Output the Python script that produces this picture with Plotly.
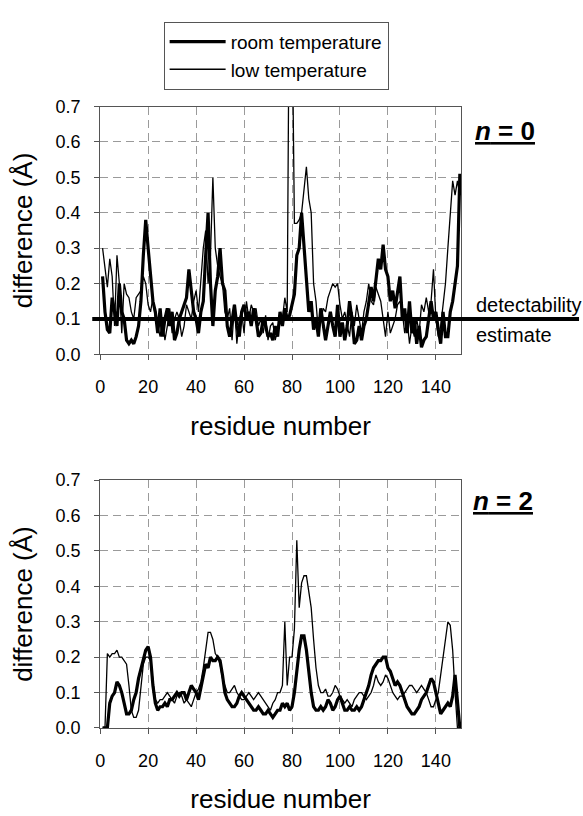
import plotly.graph_objects as go

residues = list(range(1, 152))

room_n0 = [0.22, 0.12, 0.07, 0.06, 0.16, 0.12, 0.08, 0.20, 0.12, 0.10,
           0.04, 0.03, 0.04, 0.03, 0.05, 0.08, 0.15, 0.28, 0.38, 0.30,
           0.22, 0.15, 0.12, 0.06, 0.13, 0.05, 0.10, 0.13, 0.08, 0.12,
           0.04, 0.06, 0.10, 0.12, 0.14, 0.16, 0.24, 0.18, 0.12, 0.10,
           0.06, 0.12, 0.15, 0.28, 0.40, 0.20, 0.08, 0.18, 0.22, 0.30,
           0.20, 0.18, 0.08, 0.05, 0.10, 0.14, 0.08, 0.05, 0.12, 0.14,
           0.10, 0.12, 0.08, 0.13, 0.10, 0.05, 0.06, 0.10, 0.08, 0.05,
           0.06, 0.04, 0.08, 0.05, 0.12, 0.08, 0.13, 0.10, 0.11, 0.14,
           0.17, 0.28, 0.30, 0.40, 0.30, 0.22, 0.12, 0.15, 0.07, 0.10,
           0.05, 0.13, 0.08, 0.04, 0.08, 0.12, 0.08, 0.05, 0.14, 0.05,
           0.09, 0.04, 0.08, 0.15, 0.10, 0.03, 0.04, 0.08, 0.04, 0.08,
           0.10, 0.15, 0.19, 0.15, 0.22, 0.27, 0.24, 0.31, 0.24, 0.22,
           0.15, 0.18, 0.13, 0.18, 0.22, 0.10, 0.13, 0.06, 0.15, 0.06,
           0.10, 0.03, 0.08, 0.02, 0.04, 0.05, 0.10, 0.15, 0.10, 0.12,
           0.07, 0.03, 0.12, 0.05, 0.05, 0.12, 0.15, 0.20, 0.25, 0.51,
           0.45]

low_n0 = [0.30, 0.25, 0.19, 0.27, 0.22, 0.08, 0.28, 0.20, 0.06, 0.20,
          0.17, 0.16, 0.12, 0.10, 0.16, 0.17, 0.18, 0.22, 0.20, 0.14,
          0.12, 0.16, 0.10, 0.08, 0.05, 0.10, 0.04, 0.08, 0.13, 0.06,
          0.10, 0.12, 0.10, 0.05, 0.08, 0.14, 0.12, 0.10, 0.15, 0.18,
          0.12, 0.20, 0.30, 0.35, 0.20, 0.28, 0.50, 0.30, 0.25, 0.22,
          0.20, 0.12, 0.10, 0.13, 0.04, 0.14, 0.03, 0.10, 0.12, 0.06,
          0.15, 0.10, 0.14, 0.12, 0.13, 0.08, 0.10, 0.06, 0.11, 0.04,
          0.08, 0.09, 0.04, 0.07, 0.11, 0.10, 0.16, 0.12, 1.20, 1.00,
          0.37, 0.37, 0.38, 0.40, 0.47, 0.53, 0.44, 0.40, 0.20, 0.15,
          0.06, 0.10, 0.13, 0.12, 0.16, 0.18, 0.20, 0.19, 0.20, 0.14,
          0.10, 0.12, 0.08, 0.05, 0.12, 0.08, 0.14, 0.10, 0.06, 0.12,
          0.15, 0.20, 0.15, 0.14, 0.19, 0.17, 0.15, 0.10, 0.05, 0.12,
          0.06, 0.08, 0.10, 0.14, 0.15, 0.12, 0.06, 0.10, 0.03, 0.08,
          0.05, 0.10, 0.06, 0.14, 0.12, 0.16, 0.12, 0.15, 0.24, 0.10,
          0.05, 0.08, 0.15, 0.20, 0.30, 0.40, 0.49, 0.45, 0.49, 0.45,
          0.47]

room_n2 = [0.00, 0.00, 0.00, 0.07, 0.09, 0.10, 0.13, 0.12, 0.10, 0.07,
           0.04, 0.04, 0.05, 0.08, 0.10, 0.14, 0.17, 0.20, 0.22, 0.23,
           0.20, 0.12, 0.07, 0.05, 0.06, 0.06, 0.07, 0.06, 0.08, 0.08,
           0.09, 0.10, 0.09, 0.10, 0.10, 0.08, 0.10, 0.12, 0.11, 0.10,
           0.08, 0.11, 0.14, 0.18, 0.17, 0.20, 0.19, 0.19, 0.20, 0.19,
           0.15, 0.10, 0.08, 0.07, 0.06, 0.06, 0.07, 0.09, 0.10, 0.09,
           0.08, 0.07, 0.06, 0.05, 0.05, 0.06, 0.05, 0.04, 0.04, 0.05,
           0.04, 0.03, 0.04, 0.05, 0.05, 0.07, 0.06, 0.07, 0.05, 0.06,
           0.10, 0.16, 0.22, 0.26, 0.26, 0.22, 0.15, 0.10, 0.06, 0.05,
           0.05, 0.06, 0.05, 0.06, 0.08, 0.07, 0.05, 0.06, 0.08, 0.09,
           0.07, 0.05, 0.05, 0.06, 0.05, 0.05, 0.06, 0.05, 0.06, 0.08,
           0.10, 0.12, 0.15, 0.17, 0.18, 0.19, 0.19, 0.20, 0.20, 0.17,
           0.16, 0.14, 0.12, 0.13, 0.12, 0.10, 0.08, 0.06, 0.05, 0.04,
           0.04, 0.05, 0.06, 0.08, 0.09, 0.10, 0.12, 0.14, 0.13, 0.10,
           0.07, 0.04, 0.05, 0.06, 0.07, 0.06, 0.09, 0.15, 0.08, 0.00,
           0.00]

low_n2 = [0.00, 0.00, 0.21, 0.20, 0.21, 0.21, 0.22, 0.20, 0.20, 0.19,
          0.18, 0.12, 0.05, 0.03, 0.03, 0.05, 0.12, 0.18, 0.20, 0.20,
          0.19, 0.14, 0.08, 0.07, 0.08, 0.08, 0.09, 0.10, 0.09, 0.08,
          0.07, 0.09, 0.10, 0.09, 0.07, 0.08, 0.07, 0.06, 0.08, 0.10,
          0.11, 0.13, 0.17, 0.22, 0.27, 0.27, 0.25, 0.21, 0.20, 0.18,
          0.14, 0.12, 0.10, 0.10, 0.11, 0.12, 0.10, 0.09, 0.08, 0.08,
          0.09, 0.10, 0.09, 0.08, 0.09, 0.10, 0.09, 0.08, 0.07, 0.06,
          0.05, 0.07, 0.08, 0.10, 0.10, 0.12, 0.30, 0.12, 0.20, 0.20,
          0.28, 0.53, 0.34, 0.41, 0.43, 0.43, 0.38, 0.34, 0.25, 0.17,
          0.12, 0.10, 0.10, 0.11, 0.09, 0.09, 0.10, 0.12, 0.11, 0.09,
          0.08, 0.07, 0.08, 0.07, 0.06, 0.08, 0.09, 0.10, 0.10, 0.09,
          0.08, 0.09, 0.10, 0.12, 0.15, 0.13, 0.12, 0.13, 0.15, 0.14,
          0.12, 0.10, 0.09, 0.08, 0.09, 0.09, 0.10, 0.11, 0.12, 0.12,
          0.11, 0.10, 0.11, 0.12, 0.11, 0.10, 0.08, 0.06, 0.06, 0.08,
          0.10, 0.15, 0.20, 0.25, 0.30, 0.29, 0.22, 0.10, 0.00, 0.00,
          0.00]

detectability = 0.1
x_ticks = [0, 20, 40, 60, 80, 100, 120, 140]
y_ticks = [0.0, 0.1, 0.2, 0.3, 0.4, 0.5, 0.6, 0.7]
y_tick_text = ["0.0", "0.1", "0.2", "0.3", "0.4", "0.5", "0.6", "0.7"]

FONT = "Liberation Sans, Arial, sans-serif"
W, H = 583, 816


def px_x(p):
    return p / W


def px_y(p):
    return 1 - p / H


fig = go.Figure()

fig.add_trace(go.Scatter(x=residues, y=low_n0, mode="lines", name="low temperature",
                         line=dict(color="black", width=1.3), legendrank=2,
                         xaxis="x", yaxis="y"))
fig.add_trace(go.Scatter(x=residues, y=room_n0, mode="lines", name="room temperature",
                         line=dict(color="black", width=3.2), legendrank=1,
                         xaxis="x", yaxis="y"))
fig.add_trace(go.Scatter(x=residues, y=low_n2, mode="lines", name="low temperature",
                         line=dict(color="black", width=1.3), showlegend=False,
                         xaxis="x2", yaxis="y2"))
fig.add_trace(go.Scatter(x=residues, y=room_n2, mode="lines", name="room temperature",
                         line=dict(color="black", width=3.2), showlegend=False,
                         xaxis="x2", yaxis="y2"))

xdom = [px_x(96), px_x(460)]
top_dom = [px_y(353), px_y(99)]
bot_dom = [px_y(736), px_y(482)]


def xaxis(anchor):
    return dict(domain=xdom, range=[0, 150.5], tickvals=x_ticks, anchor=anchor,
                showgrid=True, gridcolor="#9a9a9a", griddash="8px,5px", gridwidth=1,
                showline=True, linecolor="#555555", linewidth=1, mirror=True,
                ticks="outside", ticklen=5, tickcolor="#555555",
                ticklabelstandoff=11,
                tickfont=dict(family=FONT, size=18, color="black"),
                title=dict(text="residue number", font=dict(family=FONT, size=26, color="black"),
                           standoff=20),
                zeroline=False)


def yaxis(anchor, dom):
    return dict(domain=dom, range=[0, 0.7], tickvals=y_ticks, ticktext=y_tick_text, anchor=anchor,
                showgrid=True, gridcolor="#9a9a9a", griddash="8px,5px", gridwidth=1,
                showline=True, linecolor="#555555", linewidth=1, mirror=True,
                ticks="outside", ticklen=5, tickcolor="#555555",
                ticklabelstandoff=10,
                tickfont=dict(family=FONT, size=18, color="black"),
                title=dict(text="difference (Å)", font=dict(family=FONT, size=26, color="black"),
                           standoff=15),
                zeroline=False)


fig.update_layout(
    width=W, height=H,
    margin=dict(l=0, r=0, t=0, b=0),
    paper_bgcolor="white", plot_bgcolor="white",
    font=dict(family=FONT, color="black"),
    xaxis=xaxis("y"), yaxis=yaxis("x", top_dom),
    xaxis2=xaxis("y2"), yaxis2=yaxis("x2", bot_dom),
    legend=dict(x=px_x(160), y=px_y(12), xanchor="left", yanchor="top",
                bordercolor="#555555", borderwidth=1, bgcolor="white",
                font=dict(family=FONT, size=19, color="black"),
                tracegroupgap=0, itemwidth=56),
    showlegend=True,
)

fig.add_shape(type="line", xref="paper", yref="y", x0=px_x(88), x1=px_x(579),
              y0=detectability, y1=detectability,
              line=dict(color="black", width=4), layer="above")

fig.add_annotation(text="<u><b><i>n</i> = 0</b></u>", xref="paper", yref="paper",
                   x=px_x(472), y=px_y(124), xanchor="left", yanchor="middle",
                   showarrow=False, font=dict(family=FONT, size=26, color="black"))
fig.add_annotation(text="<u><b><i>n</i> = 2</b></u>", xref="paper", yref="paper",
                   x=px_x(470), y=px_y(503), xanchor="left", yanchor="middle",
                   showarrow=False, font=dict(family=FONT, size=26, color="black"))
fig.add_annotation(text="detectability", xref="paper", yref="paper",
                   x=px_x(473), y=px_y(302), xanchor="left", yanchor="middle",
                   showarrow=False, font=dict(family=FONT, size=20, color="black"))
fig.add_annotation(text="estimate", xref="paper", yref="paper",
                   x=px_x(473), y=px_y(333), xanchor="left", yanchor="middle",
                   showarrow=False, font=dict(family=FONT, size=20, color="black"))

fig.write_html("out.html", config={"displayModeBar": False},
               post_script="document.body.style.margin='0';")
